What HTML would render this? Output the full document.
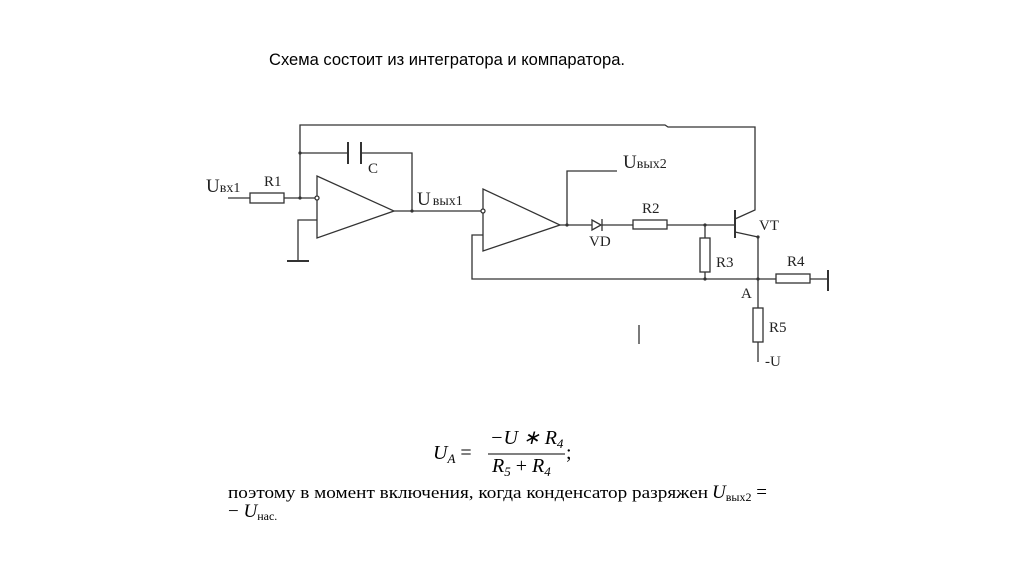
<!DOCTYPE html>
<html><head><meta charset="utf-8"><style>
html,body{margin:0;padding:0;background:#fff;}
svg{display:block}
</style></head><body>
<svg width="1024" height="574" viewBox="0 0 1024 574" xmlns="http://www.w3.org/2000/svg">
<rect width="1024" height="574" fill="#fff"/>
<text x="269" y="65" font-family="Liberation Sans, sans-serif" font-size="17" textLength="356" lengthAdjust="spacingAndGlyphs" fill="#000">Схема состоит из интегратора и компаратора.</text>
<g stroke="#333" stroke-width="1.3" fill="none">
<polyline points="300,198 300,125 665,125 668,127 755,127 755,210 735,219"/>
<polyline points="300,153 347,153"/>
<line x1="348" y1="142" x2="348" y2="164" stroke-width="2"/>
<line x1="361" y1="142" x2="361" y2="164" stroke-width="2"/>
<polyline points="361,153 412,153 412,211"/>
<line x1="228" y1="198" x2="250" y2="198"/>
<rect x="250" y="193" width="34" height="10" fill="#fff"/>
<line x1="284" y1="198" x2="315" y2="198"/>
<polygon points="317,176 317,238 394,211"/>
<circle cx="317" cy="198" r="2" fill="#fff"/>
<polyline points="317,220 298,220 298,261"/>
<line x1="287" y1="261" x2="309" y2="261" stroke-width="2"/>
<line x1="394" y1="211" x2="481" y2="211"/>
<polygon points="483,189 483,251 560,225"/>
<circle cx="483" cy="211" r="2" fill="#fff"/>
<polyline points="483,235 472,235 472,279 828,279"/>
<line x1="560" y1="225" x2="592" y2="225"/>
<polyline points="567,225 567,171 617,171"/>
<polygon points="592,220 592,230 601,225"/>
<line x1="602" y1="219" x2="602" y2="231"/>
<line x1="602" y1="225" x2="633" y2="225"/>
<rect x="633" y="220" width="34" height="9" fill="#fff"/>
<line x1="667" y1="225" x2="735" y2="225"/>
<line x1="735" y1="210" x2="735" y2="238" stroke-width="2"/>
<polyline points="735,232 758,237 758,362"/>
<line x1="705" y1="225" x2="705" y2="279"/>
<rect x="700" y="238" width="10" height="34" fill="#fff"/>
<rect x="776" y="274" width="34" height="9" fill="#fff"/>
<line x1="828" y1="270" x2="828" y2="291" stroke-width="2"/>
<rect x="753" y="308" width="10" height="34" fill="#fff"/>
<line x1="639" y1="325" x2="639" y2="344"/>
</g>
<g fill="#333">
<circle cx="300" cy="198" r="1.6"/><circle cx="300" cy="153" r="1.6"/>
<circle cx="412" cy="211" r="1.6"/><circle cx="567" cy="225" r="1.6"/>
<circle cx="705" cy="225" r="1.6"/><circle cx="705" cy="279" r="1.6"/>
<circle cx="758" cy="279" r="1.6"/><circle cx="758" cy="237" r="1.6"/>
</g>
<g font-family="Liberation Serif, serif" fill="#222">
<text x="206" y="192" font-size="19">U<tspan font-size="14">вх1</tspan></text>
<text x="264" y="186" font-size="15">R1</text>
<text x="368" y="173" font-size="15">C</text>
<text x="417" y="205" font-size="19">U<tspan font-size="14" dx="2">вых1</tspan></text>
<text x="623" y="168" font-size="19">U<tspan font-size="14">вых2</tspan></text>
<text x="642" y="213" font-size="15">R2</text>
<text x="589" y="246" font-size="15">VD</text>
<text x="759" y="230" font-size="15">VT</text>
<text x="716" y="267" font-size="15">R3</text>
<text x="787" y="266" font-size="15">R4</text>
<text x="741" y="298" font-size="15">A</text>
<text x="769" y="332" font-size="15">R5</text>
<text x="765" y="366" font-size="15">-U</text>
</g>
<g font-family="Liberation Serif, serif" fill="#000" font-size="20">
<text x="433" y="459" font-style="italic">U<tspan font-size="13" dy="4">A</tspan><tspan dy="-4" font-style="normal"> =</tspan></text>
<text x="490" y="444" font-style="italic">−U ∗ R<tspan font-size="13" dy="4">4</tspan></text>
<line x1="488" y1="454" x2="565" y2="454" stroke="#000" stroke-width="1"/>
<text x="492" y="472" font-style="italic">R<tspan font-size="13" dy="4">5</tspan><tspan dy="-4" font-style="normal"> + </tspan>R<tspan font-size="13" dy="4">4</tspan></text>
<text x="566" y="459">;</text>
<text x="228" y="498" font-size="17" textLength="480" lengthAdjust="spacingAndGlyphs">поэтому в момент включения, когда конденсатор разряжен</text>
<text x="712" y="498" font-size="19" font-style="italic">U<tspan font-size="12" font-style="normal" dy="3">вых2</tspan><tspan dy="-3" font-style="normal"> =</tspan></text>
<text x="228" y="517" font-size="19">− <tspan font-style="italic">U</tspan><tspan font-size="12" dy="3">нас.</tspan></text>
</g>
</svg>
</body></html>
